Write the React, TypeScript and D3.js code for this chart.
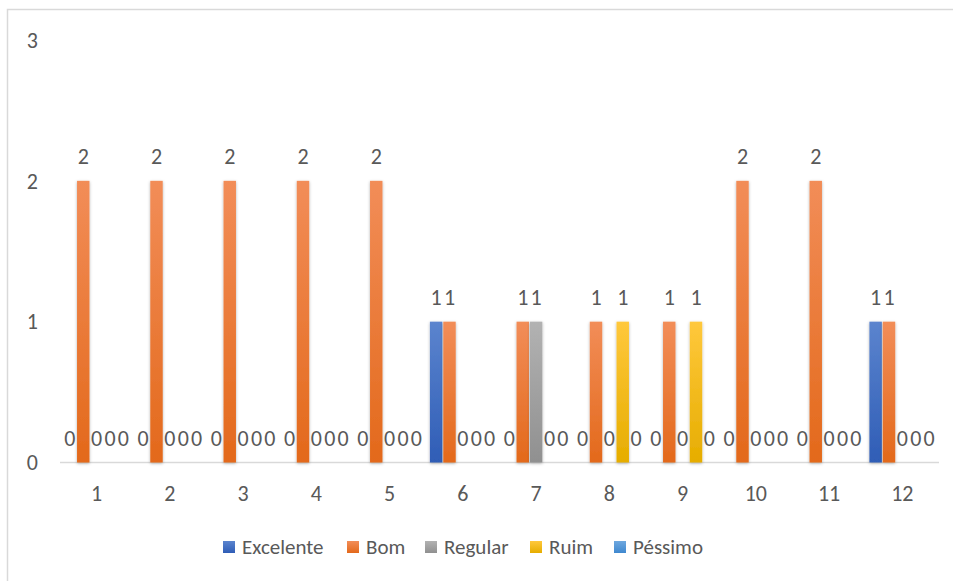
import React from "react";
import * as d3 from "d3";

const categories = ["1", "2", "3", "4", "5", "6", "7", "8", "9", "10", "11", "12"];
const seriesNames = ["Excelente", "Bom", "Regular", "Ruim", "Péssimo"];
const excelente = [0, 0, 0, 0, 0, 1, 0, 0, 0, 0, 0, 1];
const bom = [2, 2, 2, 2, 2, 1, 1, 1, 1, 2, 2, 1];
const regular = [0, 0, 0, 0, 0, 0, 1, 0, 0, 0, 0, 0];
const ruim = [0, 0, 0, 0, 0, 0, 0, 1, 1, 0, 0, 0];
const pessimo = [0, 0, 0, 0, 0, 0, 0, 0, 0, 0, 0, 0];
const yTicks = [0, 1, 2, 3];

const seriesValues = [excelente, bom, regular, ruim, pessimo];
const gradients = [
  ["#5b84ce", "#2f5db6"],
  ["#f28d58", "#e3691b"],
  ["#b2b2b2", "#909090"],
  ["#ffc83c", "#e6ad00"],
  ["#6ea8df", "#3f88cf"],
];

const FONT = "Carlito, Calibri, Lato, sans-serif";
const TXT = "#595959";

export default function App() {
  const x0 = d3
    .scaleBand<string>()
    .domain(categories)
    .range([60, 939])
    .paddingInner(0.1)
    .paddingOuter(0.05);
  const x1 = d3
    .scaleBand<string>()
    .domain(seriesNames)
    .range([0, x0.bandwidth()])
    .paddingInner(0.07);
  const y = d3.scaleLinear().domain([0, 3]).range([462.5, 40]);
  const axisLeft = x0.range()[0];
  const axisRight = x0.range()[1];

  const legendX = [223, 347, 425, 530, 614];

  return (
    <svg
      width={953}
      height={581}
      style={{ position: "absolute", left: 0, top: 0, background: "#fff" }}
      fontFamily={FONT}
    >
      <defs>
        {gradients.map((g, i) => (
          <linearGradient key={i} id={`g${i}`} x1="0" y1="0" x2="0" y2="1">
            <stop offset="0%" stopColor={g[0]} />
            <stop offset="100%" stopColor={g[1]} />
          </linearGradient>
        ))}
        <filter id="sh" x="-60%" y="-10%" width="220%" height="130%">
          <feDropShadow dx="0" dy="1" stdDeviation="1.8" floodColor="#000" floodOpacity="0.3" />
        </filter>
      </defs>
      <rect x={7.5} y={9.5} width={950} height={600} fill="#fff" stroke="#d9d9d9" strokeWidth={1.5} />

      {yTicks.map((t) => (
        <text key={t} x={38} y={y(t)} dy="0.35em" textAnchor="end" fontSize={22} fill={TXT}>
          {t}
        </text>
      ))}

      <line x1={axisLeft} x2={axisRight} y1={y(0)} y2={y(0)} stroke="#d9d9d9" strokeWidth={1.5} />

      {categories.map((c, ci) =>
        seriesNames.map((s, si) => {
          const v = seriesValues[si][ci];
          if (v <= 0) return null;
          const bx = (x0(c) as number) + (x1(s) as number);
          return (
            <rect
              key={c + s}
              x={bx}
              y={y(v)}
              width={x1.bandwidth()}
              height={y(0) - y(v)}
              fill={`url(#g${si})`}
              filter="url(#sh)"
            />
          );
        })
      )}

      {categories.map((c, ci) =>
        seriesNames.map((s, si) => {
          const v = seriesValues[si][ci];
          const cx = (x0(c) as number) + (x1(s) as number) + x1.bandwidth() / 2;
          return (
            <text key={"l" + c + s} x={cx} y={y(v) - 17} textAnchor="middle" fontSize={22} fill={TXT}>
              {v}
            </text>
          );
        })
      )}

      {categories.map((c) => (
        <text
          key={"x" + c}
          x={(x0(c) as number) + x0.bandwidth() / 2}
          y={493}
          dy="0.35em"
          textAnchor="middle"
          fontSize={22}
          fill={TXT}
        >
          {c}
        </text>
      ))}

      {seriesNames.map((s, si) => (
        <g key={"lg" + s} transform={`translate(${legendX[si]},541)`}>
          <rect x={0} y={0} width={12} height={12} fill={`url(#g${si})`} />
          <text x={19} y={6} dy="0.35em" fontSize={21} fill={TXT}>
            {s}
          </text>
        </g>
      ))}
    </svg>
  );
}
